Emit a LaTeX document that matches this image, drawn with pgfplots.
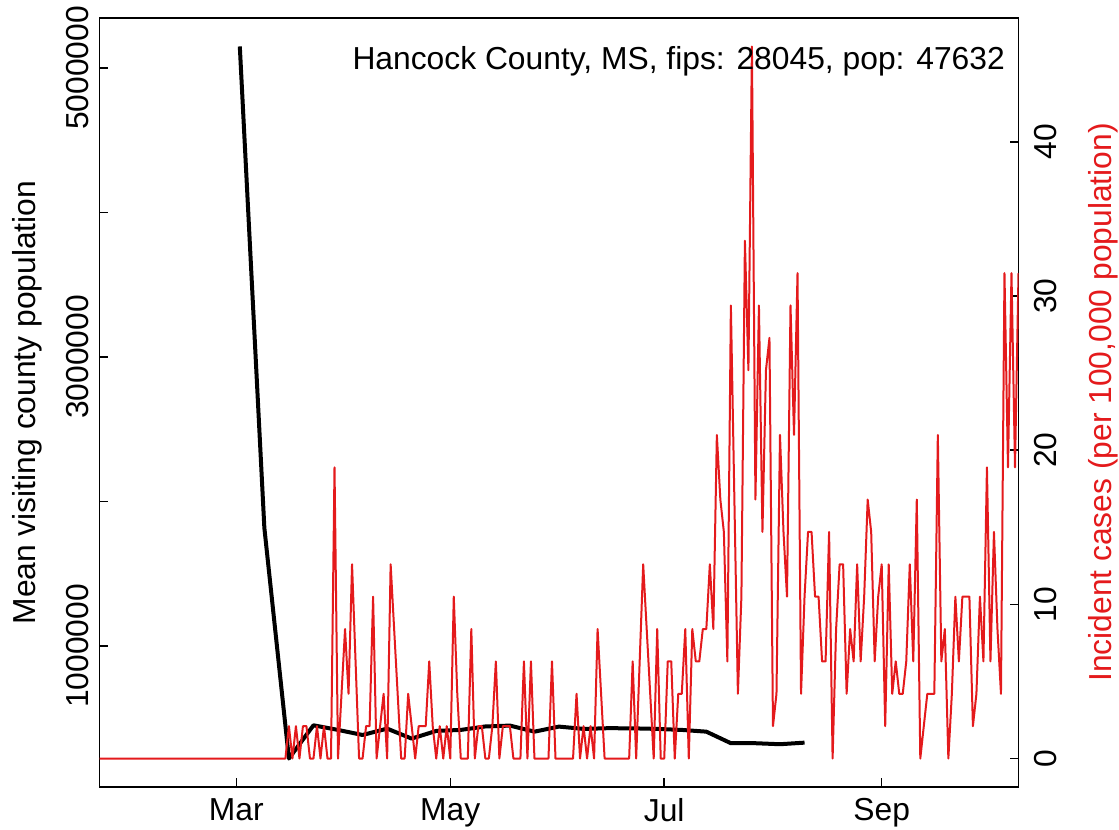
\documentclass[border=0pt]{standalone}
\usepackage{pgfplots}
\pgfplotsset{compat=1.18}
\usepackage{fontspec}
\setmainfont{Liberation Sans}
\definecolor{rred}{RGB}{228,26,28}
\newcommand\myfont{\fontsize{31.8bp}{38bp}\selectfont}

\pgfplotstableread[row sep=\\]{
d v \\
40 5149000 \\ 47 1817000 \\ 54 221000 \\ 61 451000 \\ 68 419000 \\ 75 384000 \\
82 428000 \\ 89 359000 \\ 96 412000 \\ 103 419000 \\ 110 443000 \\ 117 449000 \\
124 407000 \\ 131 442000 \\ 138 426000 \\ 145 431000 \\ 152 430000 \\ 159 426000 \\
166 419000 \\ 173 407000 \\ 180 327000 \\ 187 327000 \\ 194 320000 \\ 201 331000 \\
}\visits

\pgfplotstableread[row sep=\\]{
d v \\
0 0 \\ 1 0 \\ 2 0 \\ 3 0 \\ 4 0 \\ 5 0 \\ 6 0 \\ 7 0 \\ 8 0 \\ 9 0 \\
10 0 \\ 11 0 \\ 12 0 \\ 13 0 \\ 14 0 \\ 15 0 \\ 16 0 \\ 17 0 \\ 18 0 \\ 19 0 \\
20 0 \\ 21 0 \\ 22 0 \\ 23 0 \\ 24 0 \\ 25 0 \\ 26 0 \\ 27 0 \\ 28 0 \\ 29 0 \\
30 0 \\ 31 0 \\ 32 0 \\ 33 0 \\ 34 0 \\ 35 0 \\ 36 0 \\ 37 0 \\ 38 0 \\ 39 0 \\
40 0 \\ 41 0 \\ 42 0 \\ 43 0 \\ 44 0 \\ 45 0 \\ 46 0 \\ 47 0 \\ 48 0 \\ 49 0 \\
50 0 \\ 51 0 \\ 52 0 \\ 53 0 \\ 54 2.10 \\ 55 0 \\ 56 2.10 \\ 57 0 \\ 58 2.10 \\ 59 2.10 \\
60 0 \\ 61 0 \\ 62 2.10 \\ 63 0 \\ 64 2.10 \\ 65 0 \\ 66 0 \\ 67 18.89 \\ 68 0 \\ 69 4.20 \\
70 8.40 \\ 71 4.20 \\ 72 12.60 \\ 73 6.30 \\ 74 0 \\ 75 0 \\ 76 2.10 \\ 77 2.10 \\ 78 10.50 \\ 79 0 \\
80 2.10 \\ 81 4.20 \\ 82 0 \\ 83 12.60 \\ 84 8.40 \\ 85 4.20 \\ 86 0 \\ 87 0 \\ 88 4.20 \\ 89 2.10 \\
90 0 \\ 91 2.10 \\ 92 2.10 \\ 93 2.10 \\ 94 6.30 \\ 95 2.10 \\ 96 0 \\ 97 2.10 \\ 98 0 \\ 99 2.10 \\
100 0 \\ 101 10.50 \\ 102 4.20 \\ 103 0 \\ 104 0 \\ 105 0 \\ 106 8.40 \\ 107 0 \\ 108 2.10 \\ 109 2.10 \\
110 0 \\ 111 0 \\ 112 2.10 \\ 113 6.30 \\ 114 0 \\ 115 2.10 \\ 116 2.10 \\ 117 2.10 \\ 118 0 \\ 119 0 \\
120 0 \\ 121 6.30 \\ 122 0 \\ 123 6.30 \\ 124 0 \\ 125 0 \\ 126 0 \\ 127 0 \\ 128 0 \\ 129 6.30 \\
130 0 \\ 131 0 \\ 132 0 \\ 133 0 \\ 134 0 \\ 135 0 \\ 136 4.20 \\ 137 0 \\ 138 2.10 \\ 139 0 \\
140 2.10 \\ 141 0 \\ 142 8.40 \\ 143 4.20 \\ 144 0 \\ 145 0 \\ 146 0 \\ 147 0 \\ 148 0 \\ 149 0 \\
150 0 \\ 151 0 \\ 152 6.30 \\ 153 0 \\ 154 6.30 \\ 155 12.60 \\ 156 8.40 \\ 157 4.20 \\ 158 0 \\ 159 8.40 \\
160 0 \\ 161 0 \\ 162 6.30 \\ 163 6.30 \\ 164 0 \\ 165 4.20 \\ 166 4.20 \\ 167 8.40 \\ 168 0 \\ 169 8.40 \\
170 6.30 \\ 171 6.30 \\ 172 8.40 \\ 173 8.40 \\ 174 12.60 \\ 175 8.40 \\ 176 20.99 \\ 177 16.80 \\ 178 14.70 \\ 179 6.30 \\
180 29.39 \\ 181 16.80 \\ 182 4.20 \\ 183 10.50 \\ 184 33.59 \\ 185 25.19 \\ 186 46.19 \\ 187 16.80 \\ 188 29.39 \\ 189 14.70 \\
190 25.19 \\ 191 27.29 \\ 192 2.10 \\ 193 4.20 \\ 194 20.99 \\ 195 14.70 \\ 196 10.50 \\ 197 29.39 \\ 198 20.99 \\ 199 31.49 \\
200 4.20 \\ 201 10.50 \\ 202 14.70 \\ 203 14.70 \\ 204 10.50 \\ 205 10.50 \\ 206 6.30 \\ 207 6.30 \\ 208 14.70 \\ 209 0 \\
210 8.40 \\ 211 12.60 \\ 212 12.60 \\ 213 4.20 \\ 214 8.40 \\ 215 6.30 \\ 216 12.60 \\ 217 6.30 \\ 218 10.50 \\ 219 16.80 \\
220 14.70 \\ 221 6.30 \\ 222 10.50 \\ 223 12.60 \\ 224 2.10 \\ 225 12.60 \\ 226 4.20 \\ 227 6.30 \\ 228 4.20 \\ 229 4.20 \\
230 6.30 \\ 231 12.60 \\ 232 6.30 \\ 233 16.80 \\ 234 0 \\ 235 2.10 \\ 236 4.20 \\ 237 4.20 \\ 238 4.20 \\ 239 20.99 \\
240 6.30 \\ 241 8.40 \\ 242 0 \\ 243 4.20 \\ 244 10.50 \\ 245 6.30 \\ 246 10.50 \\ 247 10.50 \\ 248 10.50 \\ 249 2.10 \\
250 4.20 \\ 251 10.50 \\ 252 6.30 \\ 253 18.89 \\ 254 6.30 \\ 255 14.70 \\ 256 8.40 \\ 257 4.20 \\ 258 31.49 \\ 259 18.89 \\
260 31.49 \\ 261 18.89 \\ 262 31.49 \\
}\cases

\begin{document}
\begin{tikzpicture}
\useasboundingbox (-99.5bp,-43bp) rectangle (1019.5bp,787bp);
\begin{axis}[
  at={(0,0)}, anchor=south west,
  scale only axis, width=919bp, height=769bp,
  xmin=0, xmax=262, ymin=24000, ymax=5346000,
  xtick={39,100,161,223}, xticklabels={Mar,May,Jul,Sep},
  ytick={1000000,2000000,3000000,4000000,5000000},
  yticklabels={1000000,,3000000,,5000000},
  xtick pos=bottom, ytick pos=left,
  tick align=inside, major tick length=8.5bp,
  scaled y ticks=false,
  axis line style={line width=1.5bp},
  every tick/.style={line width=1.5bp, black},
  tick label style={font=\myfont},
  xticklabel style={anchor=north, inner sep=11bp},
  yticklabel style={rotate=90, anchor=south, inner sep=10.5bp},
]
\addplot[black, line width=4bp, line join=round] table[x=d, y=v] {\visits};
\end{axis}
\begin{axis}[
  at={(0,0)}, anchor=south west,
  scale only axis, width=919bp, height=769bp,
  xmin=0, xmax=262, ymin=-1.848, ymax=48.04,
  hide x axis,
  axis y line*=right,
  ytick={0,10,20,30,40}, yticklabels={0,10,20,30,40},
  tick align=inside, major tick length=8.5bp,
  axis line style={line width=1.5bp},
  every tick/.style={line width=1.5bp, black},
  tick label style={font=\myfont},
  yticklabel style={rotate=90, anchor=north, inner sep=16bp},
]
\addplot[rred, line width=2bp, line join=round] table[x=d, y=v] {\cases};
\end{axis}
\node[rotate=90, anchor=base, font=\myfont, inner sep=0pt] at (-63.5bp,384.5bp) {Mean visiting county population};
\node[rotate=90, anchor=base, font=\myfont, inner sep=0pt, text=rred] at (1011.5bp,384.5bp) {Incident cases (per 100,000 population)};
\node[anchor=base east, font=\myfont, inner sep=0pt] at (905.5bp,717bp) {Hancock County, MS, fips: 28045, pop: 47632};
\end{tikzpicture}
\end{document}
